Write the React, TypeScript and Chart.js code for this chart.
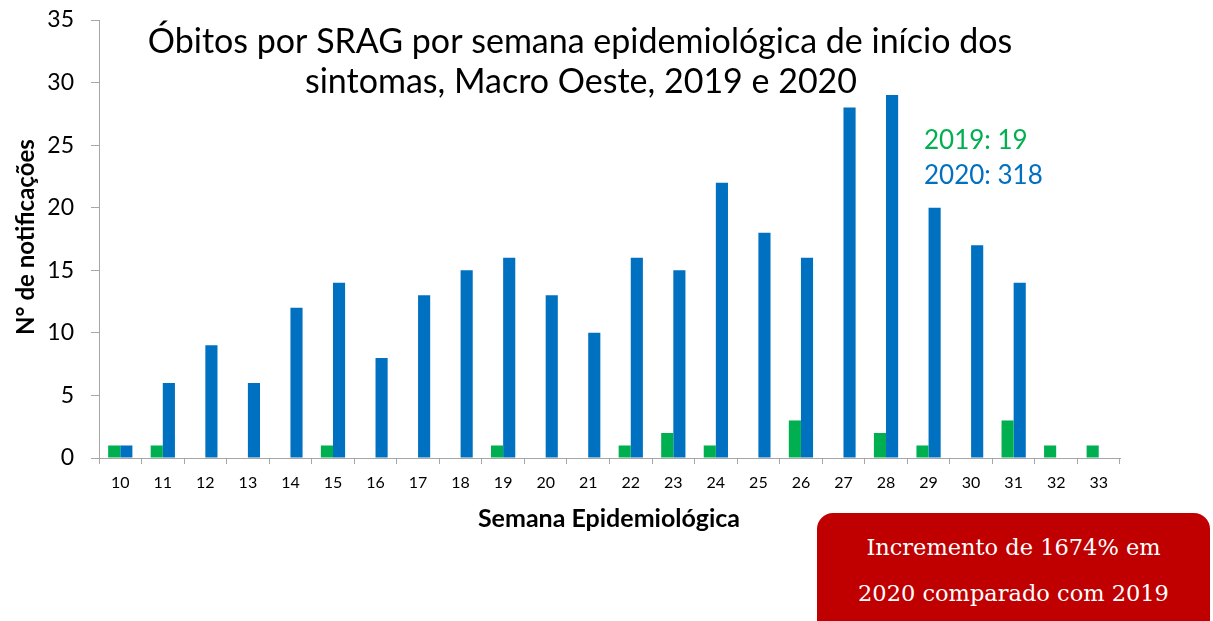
import React, { useEffect, useRef } from "react";
import { Chart, registerables } from "chart.js";

Chart.register(...registerables);

const weeks = ["10","11","12","13","14","15","16","17","18","19","20","21","22","23","24","25","26","27","28","29","30","31","32","33"];
const deaths2019 = [1,1,0,0,0,1,0,0,0,1,0,0,1,2,1,0,3,0,2,1,0,3,1,1];
const deaths2020 = [1,6,9,6,12,14,8,13,15,16,13,10,16,15,22,18,16,28,29,20,17,14,0,0];
const yTicks = [0,5,10,15,20,25,30,35];
const titleLines = ["Óbitos por SRAG por semana epidemiológica de início dos", "sintomas, Macro Oeste, 2019 e 2020"];
const totalLines = ["2019: 19", "2020: 318"];
const yTitle = "N° de notificações";
const xTitle = "Semana Epidemiológica";
const boxLines = ["Incremento de 1674% em", "2020 comparado com 2019"];

const GREEN = "#00B050";
const BLUE = "#0070C0";
const FONT = "Lato, 'Open Sans', sans-serif";

const textPlugin = {
  id: "textPlugin",
  afterDraw(chart: any) {
    const ctx = chart.ctx as CanvasRenderingContext2D;
    ctx.save();
    ctx.textAlign = "center";
    ctx.textBaseline = "alphabetic";
    ctx.fillStyle = "#000";
    ctx.font = `34px ${FONT}`;
    ctx.fillText(titleLines[0], 580, 53);
    ctx.fillText(titleLines[1], 581, 93);

    ctx.textAlign = "left";
    ctx.textBaseline = "middle";
    ctx.font = `26px ${FONT}`;
    ctx.fillStyle = GREEN;
    ctx.fillText(totalLines[0], 924, 141);
    ctx.fillStyle = BLUE;
    ctx.fillText(totalLines[1], 924, 176);

    ctx.fillStyle = "#000";
    ctx.textAlign = "center";
    ctx.font = `bold 25px ${FONT}`;
    ctx.fillText(xTitle, 609, 519);
    ctx.font = `bold 24px ${FONT}`;
    ctx.translate(26, 237);
    ctx.rotate(-Math.PI / 2);
    ctx.fillText(yTitle, 0, 0);
    ctx.restore();
  },
};

export default function App() {
  const ref = useRef<HTMLCanvasElement | null>(null);
  useEffect(() => {
    if (!ref.current) return;
    const chart = new Chart(ref.current, {
      type: "bar",
      data: {
        labels: weeks,
        datasets: [
          { label: "2019", data: deaths2019, backgroundColor: GREEN, barPercentage: 1, categoryPercentage: 0.57 },
          { label: "2020", data: deaths2020, backgroundColor: BLUE, barPercentage: 1, categoryPercentage: 0.57 },
        ],
      },
      options: {
        animation: false,
        responsive: false,
        maintainAspectRatio: false,
        layout: { padding: { top: 20, right: 93, left: 0, bottom: 0 } },
        plugins: { legend: { display: false }, tooltip: { enabled: false }, title: { display: false } },
        scales: {
          x: {
            grid: { display: true, drawOnChartArea: false, offset: true, tickLength: 6, color: "#A6A6A6" },
            border: { color: "#A6A6A6" },
            ticks: { color: "#000", font: { family: FONT, size: 16 }, padding: 9, maxRotation: 0, autoSkip: false },
            afterFit(scale: any) { scale.height = 163; scale.paddingLeft = 0; scale.paddingRight = 0; },
          },
          y: {
            min: 0,
            max: 35,
            afterBuildTicks(scale: any) { scale.ticks = yTicks.map((v) => ({ value: v })); },
            grid: { display: true, drawOnChartArea: false, tickLength: 8, color: "#A6A6A6" },
            border: { color: "#A6A6A6" },
            ticks: { color: "#000", font: { family: FONT, size: 23 }, padding: 17 },
            afterFit(scale: any) { scale.width = 99; scale.paddingTop = 0; scale.paddingBottom = 0; },
          },
        },
      },
      plugins: [textPlugin],
    });
    return () => chart.destroy();
  }, []);

  return (
    <div style={{ position: "fixed", left: 0, top: 0, width: 1213, height: 621, overflow: "hidden", background: "#fff" }}>
      <canvas ref={ref} width={1213} height={621} style={{ position: "absolute", left: 0, top: 0, width: 1213, height: 621 }} />
      <div
        style={{
          position: "absolute",
          left: 817,
          top: 513,
          width: 393,
          height: 140,
          background: "#C00000",
          borderRadius: 16,
          color: "#fff",
          fontFamily: "'DejaVu Serif', 'Liberation Serif', serif",
          fontSize: 22.5,
          textAlign: "center",
          boxSizing: "border-box",
          paddingTop: 11,
          lineHeight: "46px",
          whiteSpace: "nowrap",
        }}
      >
        <div>{boxLines[0]}</div>
        <div>{boxLines[1]}</div>
      </div>
    </div>
  );
}
